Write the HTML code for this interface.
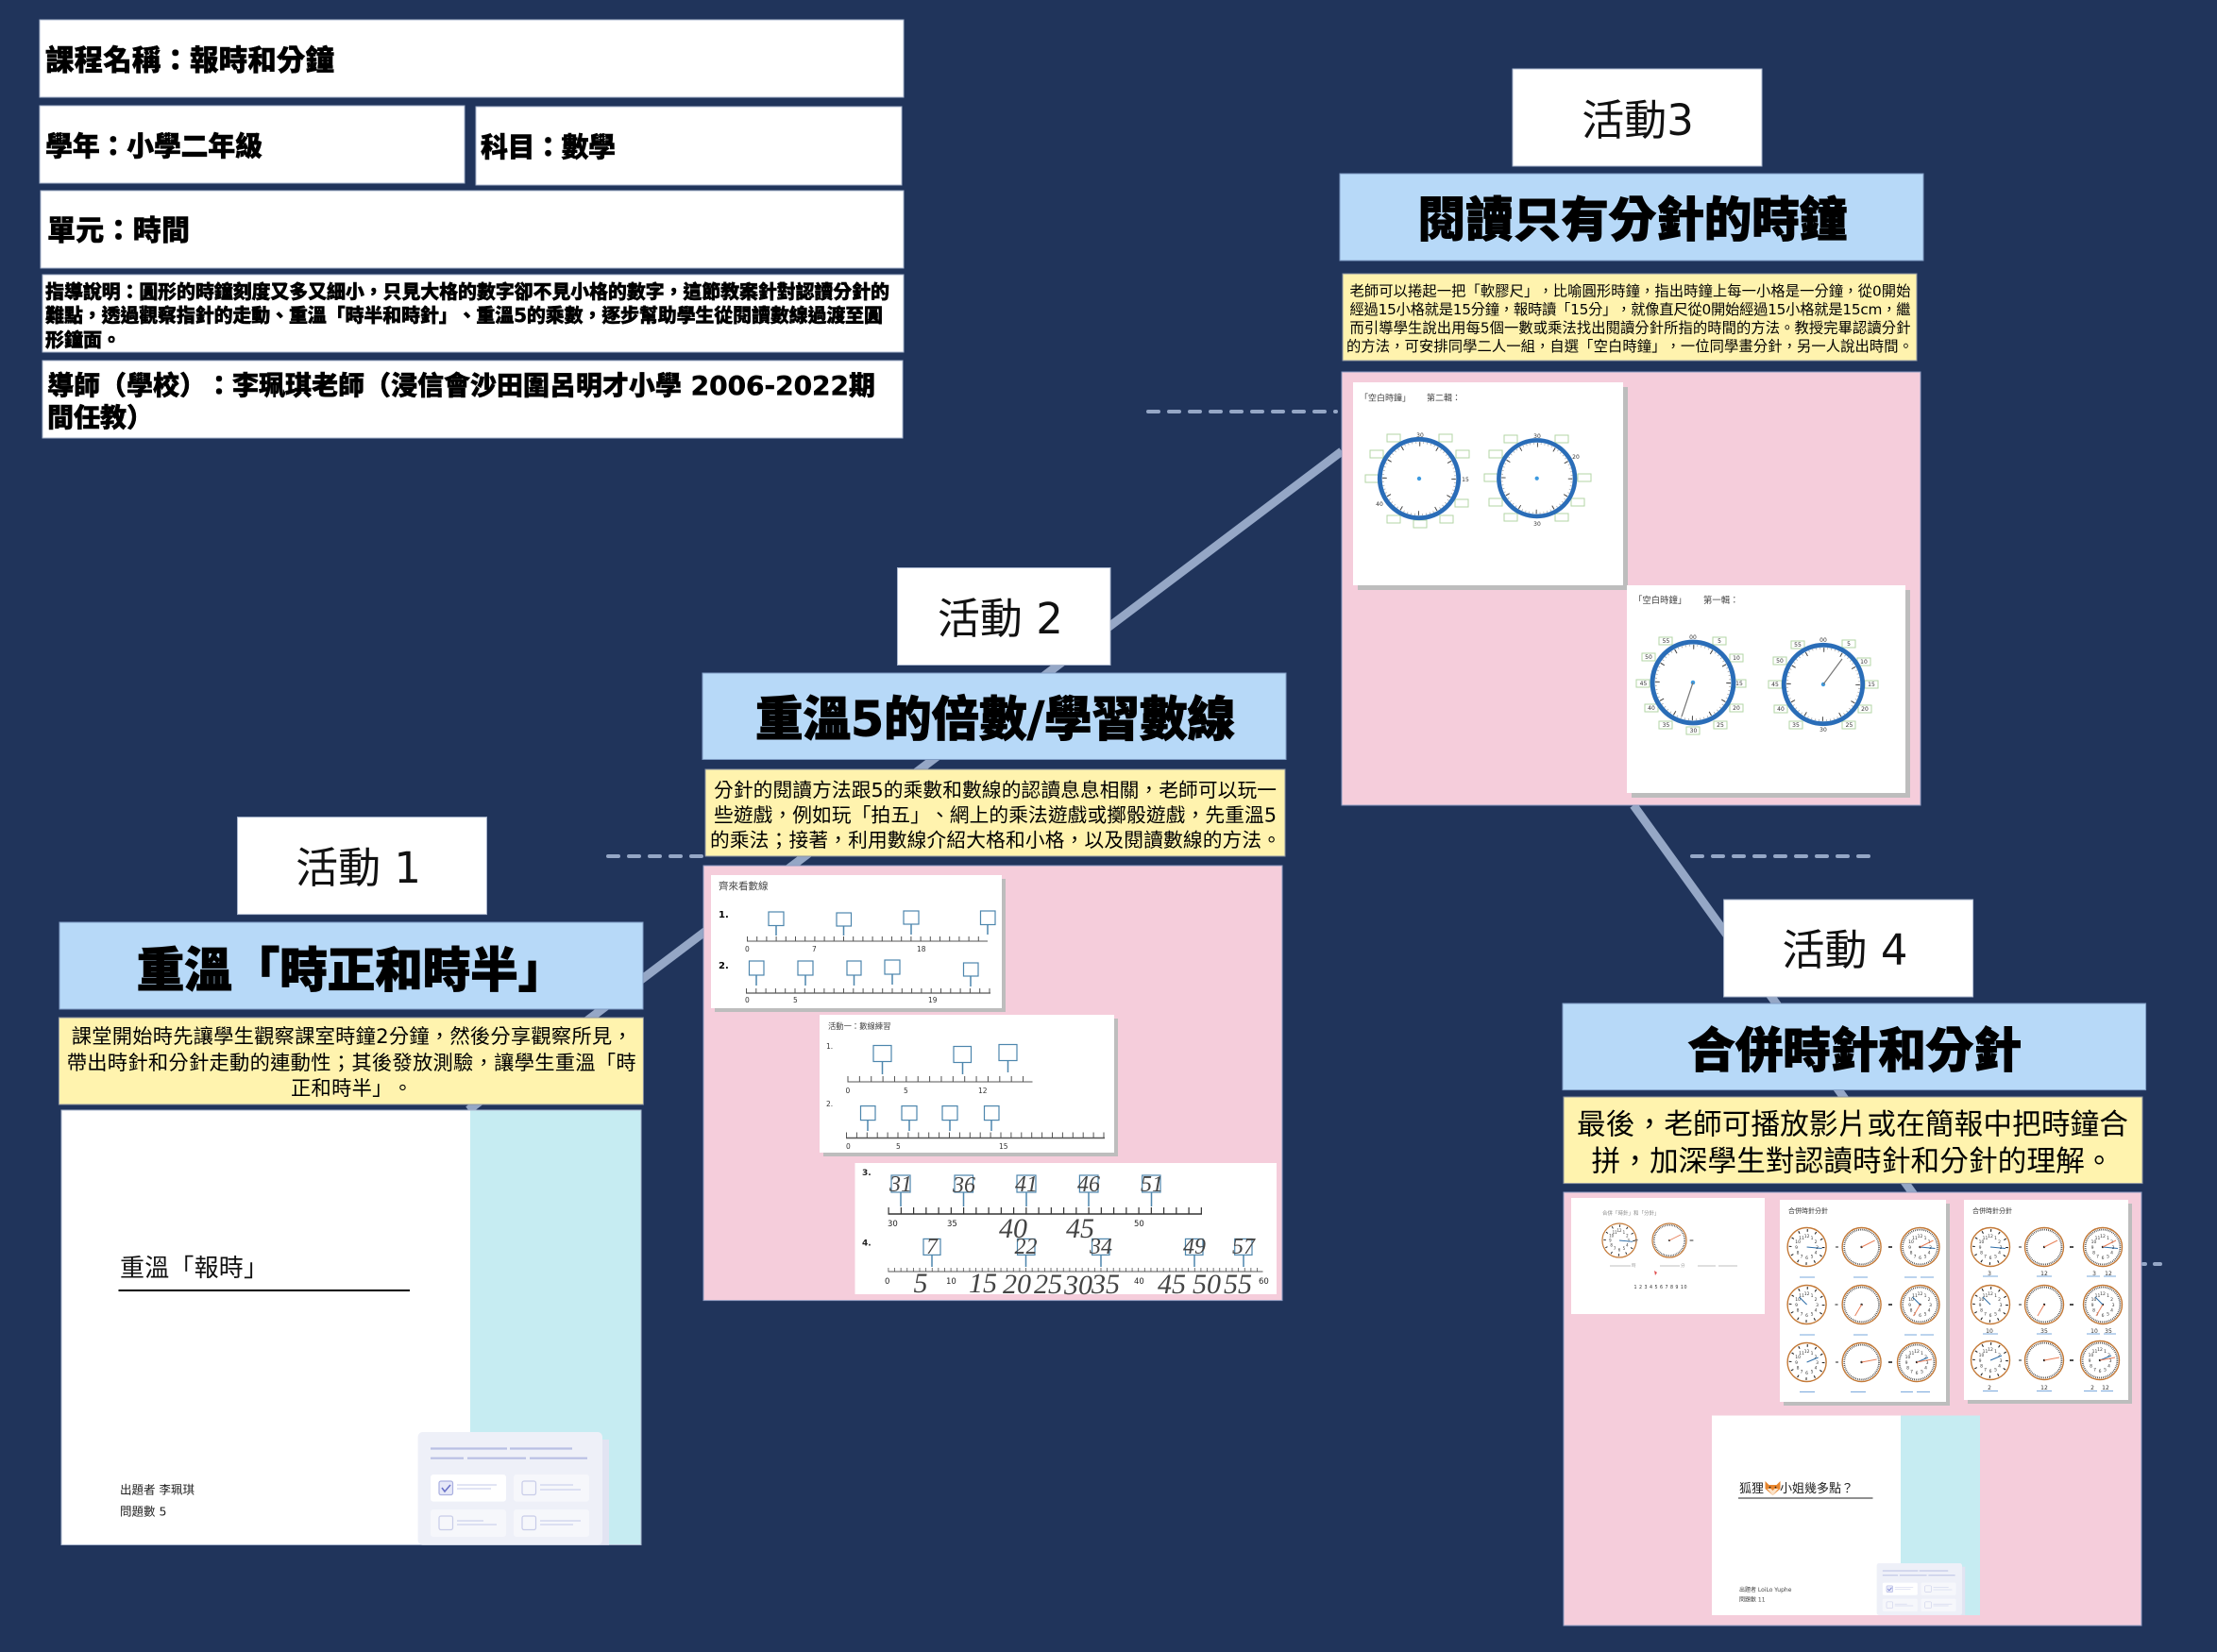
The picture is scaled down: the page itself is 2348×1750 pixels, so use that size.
<!DOCTYPE html>
<html lang="zh-Hant"><head><meta charset="utf-8"><title>報時和分鐘</title>
<style>
html,body{margin:0;padding:0;background:#20345b}
svg{display:block}
text{font-family:"DejaVu Sans","Noto Sans CJK TC",sans-serif;fill:#000;text-spacing-trim:space-all;font-feature-settings:"chws" 0,"palt" 0}
.b{font-weight:900;stroke:#000;stroke-width:.5px}
.t{font-weight:900;font-size:50.5px;text-anchor:middle;stroke:#000;stroke-width:1px}
.l{font-size:45px;text-anchor:middle;fill:#111}
.m{stroke:#95a7c6;stroke-width:9;fill:none}
.d{stroke:#95a7c6;stroke-width:4;stroke-linecap:round;stroke-dasharray:11 11;fill:none}
.w{fill:#fff;stroke:#a9b6ce;stroke-width:1}
.bl{fill:#b7d9f8;stroke:#7f9cc4;stroke-width:1}
.y{fill:#fff3ae;stroke:#8b93a0;stroke-width:1}
.p{fill:#f5cddb;stroke:#8d9ac0;stroke-width:1}
.s{fill:#bdbdbd}
.n{fill:#fff}
.bx{fill:#fff;stroke:#4d86ad;stroke-width:1.2}
.ar{stroke:#4d86ad;stroke-width:1.5}
.tk{stroke:#555;fill:none}
.sm{font-size:7.5px;fill:#333}
.sn{font-size:8.5px;fill:#222}
.hw{font-family:"Liberation Serif","Noto Serif CJK SC",serif;font-style:italic;fill:#444;font-size:30px;text-anchor:middle}
.hb{font-family:"Liberation Serif","Noto Serif CJK SC",serif;font-style:italic;fill:#444;font-size:24px;text-anchor:middle}
.gb{fill:#fff;stroke:#b3d6a6;stroke-width:1}
.cl{font-size:6px;text-anchor:middle;fill:#333}
.c5{font-size:4.5px;text-anchor:middle;fill:#333}
.ans{stroke:#7aa8dc;stroke-width:1;fill:none}
</style></head><body>
<svg xmlns="http://www.w3.org/2000/svg" width="2348" height="1750" viewBox="0 0 2348 1750">
<defs>
<g id="bclock">
<circle r="41.7" fill="#fff" stroke="#2a6db8" stroke-width="4.8"/>
<circle r="38.2" fill="none" stroke="#aaa" stroke-width="2" stroke-dasharray=".8 3.2"/>
<circle r="36.5" fill="none" stroke="#444" stroke-width="4.5" stroke-dasharray="1 18.11"/>
<circle r="2.2" fill="#3d9ae0"/>
</g>
<g id="nums">
<text class="c5" y="-10">12</text><text class="c5" x="5.500" y="-8">1</text><text class="c5" x="9.500" y="-3.800">2</text><text class="c5" x="11" y="1.800">3</text><text class="c5" x="9.500" y="7.300">4</text><text class="c5" x="5.500" y="11.300">5</text><text class="c5" y="13">6</text><text class="c5" x="-5.500" y="11.300">7</text><text class="c5" x="-9.500" y="7.300">8</text><text class="c5" x="-11" y="1.800">9</text><text class="c5" x="-9.500" y="-3.800">10</text><text class="c5" x="-5.500" y="-8">11</text>
</g>
<g id="oc1">
<circle r="20.5" fill="#fff" stroke="#c47a38" stroke-width="1.4"/>
<circle r="17.5" fill="none" stroke="#222" stroke-width="2.8" stroke-dasharray="1.1 8.06"/>
<use href="#nums"/>
</g>
<g id="oc2">
<circle r="20.5" fill="#fff" stroke="#c47a38" stroke-width="1.4"/>
<circle r="18.4" fill="none" stroke="#222" stroke-width="1.8" stroke-dasharray=".7 1.23"/>
<circle r="1.2" fill="#222"/>
</g>
<g id="oc3">
<circle r="20.5" fill="#fff" stroke="#c47a38" stroke-width="1.4"/>
<circle r="18.4" fill="none" stroke="#222" stroke-width="1.8" stroke-dasharray=".7 1.23"/>
<use href="#nums"/>
<circle r="1.2" fill="#222"/>
</g>
<path id="h1" d="M0 0L16 1.500" stroke="#2f6ea8" stroke-width="1" fill="none"/>
<path id="m1" d="M0 0L14 -7" stroke="#e8805a" stroke-width="1" fill="none"/>
<path id="h2" d="M0 0L-8 -8" stroke="#2f6ea8" stroke-width="1" fill="none"/>
<path id="m2" d="M0 0L-7 12" stroke="#e8805a" stroke-width="1" fill="none"/>
<path id="h3" d="M0 0L12 -5" stroke="#2f6ea8" stroke-width="1" fill="none"/>
<path id="m3" d="M0 0L16 -3" stroke="#e8805a" stroke-width="1" fill="none"/>
<g id="card">
<rect x="448" y="1525" width="197" height="111.500" fill="#e2e4f2"/>
<rect x="442.600" y="1517" width="195.400" height="119.500" rx="5" fill="#eef0f8"/>
<path d="M456 1534.500H537M540 1534.500H606M456 1544.700H491M495 1544.700H557M561 1544.700H622" stroke="#b9bfe4" stroke-width="2.200" fill="none"/>
<rect x="456" y="1562" width="80" height="28.600" rx="3" fill="#fff"/>
<rect x="544" y="1562" width="80" height="28.600" rx="3" fill="#f6f7fb"/>
<rect x="456" y="1599" width="80" height="29" rx="3" fill="#f6f7fb"/>
<rect x="544" y="1599" width="80" height="29" rx="3" fill="#f6f7fb"/>
<rect x="465" y="1569" width="14.500" height="14.500" rx="2" fill="#e6e8f8" stroke="#aab0e0" stroke-width="1.200"/>
<path d="M468 1576l3 4 6-7" stroke="#6a72c8" stroke-width="1.600" fill="none"/>
<rect x="553" y="1569" width="14.500" height="14.500" rx="2" fill="none" stroke="#c8cce8" stroke-width="1.200"/>
<rect x="465" y="1606" width="14.500" height="14.500" rx="2" fill="none" stroke="#c8cce8" stroke-width="1.200"/>
<rect x="553" y="1606" width="14.500" height="14.500" rx="2" fill="none" stroke="#c8cce8" stroke-width="1.200"/>
<path d="M484 1573H526M484 1577H520M572 1573H607M572 1578H615M484 1611H512M484 1615H526M572 1611H615M572 1615H607" stroke="#c3c8e8" stroke-width="1" fill="none"/>
</g>
</defs>

<rect width="2348" height="1750" fill="#20345b"/>

<!-- connectors -->
<path class="m" d="M496 1176L1421 478"/>
<path class="m" d="M1730 853L2028 1267"/>
<path class="d" d="M1216 436H1415"/>
<path class="d" d="M644 907H750"/>
<path class="d" d="M1792 907H1980"/>
<path class="d" d="M2270 1339H2272M2282 1339H2288"/>

<!-- header -->
<rect class="w" x="42" y="21" width="915" height="82"/>
<rect class="w" x="42" y="112" width="450" height="82"/>
<rect class="w" x="504" y="113" width="451" height="83"/>
<rect class="w" x="43" y="202" width="914" height="82"/>
<rect class="w" x="45" y="291" width="912" height="82"/>
<rect class="w" x="45" y="382" width="911" height="82"/>
<text class="b" x="48" y="74.500" font-size="30.500" textLength="306">課程名稱：報時和分鐘</text>
<text class="b" x="48" y="165" font-size="29" textLength="230">學年：小學二年級</text>
<text class="b" x="509" y="166" font-size="29" textLength="143">科目：數學</text>
<text class="b" x="50" y="254.500" font-size="30" textLength="151">單元：時間</text>
<text class="b" x="48" y="316" font-size="20" textLength="894">指導說明：圓形的時鐘刻度又多又細小，只見大格的數字卻不見小格的數字，這節教案針對認讀分針的</text>
<text class="b" x="48" y="341" font-size="20" textLength="887">難點，透過觀察指針的走動、重溫「時半和時針」、重溫5的乘數，逐步幫助學生從閱讀數線過渡至圓</text>
<text class="b" x="48" y="367" font-size="20">形鐘面。</text>
<text class="b" x="50" y="418" font-size="28" textLength="877">導師（學校）：李珮琪老師（浸信會沙田圍呂明才小學 2006-2022期</text>
<text class="b" x="50" y="452" font-size="28">間任教）</text>

<!-- Activity 3 -->
<rect class="w" x="1602" y="73" width="264" height="103"/>
<text class="l" x="1734.600" y="143">活動3</text>
<rect class="bl" x="1419" y="184" width="618" height="92"/>
<text class="t" x="1729" y="250.500">閱讀只有分針的時鐘</text>
<rect class="y" x="1422" y="290" width="608" height="92"/>
<g font-size="15.300">
<text x="1429.500" y="313.300" textLength="594">老師可以捲起一把「軟膠尺」，比喻圓形時鐘，指出時鐘上每一小格是一分鐘，從0開始</text>
<text x="1429.500" y="333" textLength="594">經過15小格就是15分鐘，報時讀「15分」，就像直尺從0開始經過15小格就是15cm，繼</text>
<text x="1429.500" y="352.500" textLength="594">而引導學生說出用每5個一數或乘法找出閱讀分針所指的時間的方法。教授完畢認讀分針</text>
<text x="1426" y="372" textLength="600">的方法，可安排同學二人一組，自選「空白時鐘」，一位同學畫分針，另一人說出時間。</text>
</g>
<rect class="p" x="1421" y="394" width="613" height="459"/>
<rect class="s" x="1438" y="410" width="286" height="215"/>
<rect class="n" x="1433" y="405" width="286" height="215"/>
<rect class="s" x="1728" y="625" width="295" height="220"/>
<rect class="n" x="1723" y="620" width="295" height="220"/>
<text x="1440" y="424.500" font-size="9" style="fill:#444">「空白時鐘」</text>
<text x="1511" y="424.500" font-size="9" style="fill:#444">第二輯：</text>
<text x="1730" y="639" font-size="9.400" style="fill:#444">「空白時鐘」</text>
<text x="1804" y="639" font-size="9.400" style="fill:#444">第一輯：</text>

<g>
<rect class="gb" x="1469" y="460" width="14" height="8"/><rect class="gb" x="1524" y="460" width="14" height="8"/>
<rect class="gb" x="1451" y="477" width="14" height="8"/><rect class="gb" x="1542" y="477" width="14" height="8"/>
<rect class="gb" x="1446" y="503" width="14" height="8"/><rect class="gb" x="1541" y="529" width="14" height="8"/>
<rect class="gb" x="1469" y="546" width="14" height="8"/><rect class="gb" x="1497" y="551" width="14" height="8"/>
<rect class="gb" x="1525" y="546" width="14" height="8"/>
<rect class="gb" x="1593" y="461" width="14" height="8"/><rect class="gb" x="1647" y="461" width="14" height="8"/>
<rect class="gb" x="1577" y="477" width="14" height="8"/>
<rect class="gb" x="1572" y="502" width="14" height="8"/><rect class="gb" x="1671" y="502" width="14" height="8"/>
<rect class="gb" x="1577" y="528" width="14" height="8"/><rect class="gb" x="1664" y="528" width="14" height="8"/>
<rect class="gb" x="1593" y="544" width="14" height="8"/><rect class="gb" x="1647" y="544" width="14" height="8"/>
</g>
<use href="#bclock" transform="translate(1503 507)"/>
<use href="#bclock" transform="translate(1627.700 506.700) scale(.966)"/>
<text class="cl" x="1504" y="463">30</text><text class="cl" x="1552" y="510">15</text><text class="cl" x="1461" y="536">40</text>
<text class="cl" x="1628" y="464">30</text><text class="cl" x="1628" y="557">30</text><text class="cl" x="1669" y="486">20</text>

<g>
<rect class="gb" x="1757" y="675" width="14" height="8"/><rect class="gb" x="1814" y="675" width="14" height="8"/>
<rect class="gb" x="1832" y="693" width="14" height="8"/><rect class="gb" x="1835" y="720" width="14" height="8"/>
<rect class="gb" x="1832" y="746" width="14" height="8"/><rect class="gb" x="1815" y="764" width="14" height="8"/>
<rect class="gb" x="1786" y="770" width="14" height="8"/><rect class="gb" x="1757" y="764" width="14" height="8"/>
<rect class="gb" x="1742" y="746" width="14" height="8"/><rect class="gb" x="1733" y="720" width="14" height="8"/>
<rect class="gb" x="1739" y="692" width="14" height="8"/>
<rect class="gb" x="1951" y="678" width="14" height="8"/><rect class="gb" x="1967" y="697" width="14" height="8"/>
<rect class="gb" x="1975" y="721" width="14" height="8"/><rect class="gb" x="1968" y="747" width="14" height="8"/>
<rect class="gb" x="1951" y="764" width="14" height="8"/><rect class="gb" x="1895" y="764" width="14" height="8"/>
<rect class="gb" x="1879" y="747" width="14" height="8"/><rect class="gb" x="1873" y="721" width="14" height="8"/>
<rect class="gb" x="1878" y="696" width="14" height="8"/><rect class="gb" x="1897" y="679" width="14" height="8"/>
</g>
<use href="#bclock" transform="translate(1793 723) scale(1.03)"/>
<use href="#bclock" transform="translate(1931 725)"/>
<path d="M1793 723L1781 759M1931 725L1951 698" stroke="#777" stroke-width="1.200" fill="none"/>
<text class="cl" x="1793" y="677">00</text><text class="cl" x="1821" y="681">5</text><text class="cl" x="1839" y="699">10</text><text class="cl" x="1842" y="726">15</text><text class="cl" x="1839" y="752">20</text><text class="cl" x="1822" y="770">25</text><text class="cl" x="1793.500" y="776">30</text><text class="cl" x="1764.500" y="770">35</text><text class="cl" x="1749" y="752">40</text><text class="cl" x="1740.500" y="726">45</text><text class="cl" x="1746" y="698">50</text><text class="cl" x="1764.500" y="681">55</text>
<text class="cl" x="1931" y="680">00</text><text class="cl" x="1958" y="684">5</text><text class="cl" x="1974" y="703">10</text><text class="cl" x="1982" y="727">15</text><text class="cl" x="1975" y="753">20</text><text class="cl" x="1958.500" y="770">25</text><text class="cl" x="1931" y="775">30</text><text class="cl" x="1902" y="770">35</text><text class="cl" x="1886" y="753">40</text><text class="cl" x="1880" y="727">45</text><text class="cl" x="1885" y="702">50</text><text class="cl" x="1904" y="685">55</text>

<!-- Activity 2 -->
<rect class="w" x="950.500" y="601.500" width="225.500" height="103"/>
<text class="l" x="1059.400" y="671">活動 2</text>
<rect class="bl" x="744" y="713" width="618" height="91.500"/>
<text class="t" x="1054" y="779.500">重溫5的倍數/學習數線</text>
<rect class="y" x="747" y="815" width="614" height="92"/>
<g font-size="20.700">
<text x="756" y="844" textLength="596">分針的閱讀方法跟5的乘數和數線的認讀息息相關，老師可以玩一</text>
<text x="756" y="870.400" textLength="596">些遊戲，例如玩「拍五」、網上的乘法遊戲或擲骰遊戲，先重溫5</text>
<text x="752" y="897" textLength="605">的乘法；接著，利用數線介紹大格和小格，以及閱讀數線的方法。</text>
</g>
<rect class="p" x="745" y="917" width="613" height="460.600"/>
<rect class="s" x="757" y="931" width="308" height="141"/>
<rect class="n" x="753" y="927" width="308" height="141"/>
<rect class="s" x="872" y="1079" width="312" height="146"/>
<rect class="n" x="868" y="1075" width="312" height="146"/>
<rect class="n" x="905.500" y="1232" width="446.500" height="139"/>

<!-- W1 -->
<text x="761" y="942" font-size="10.500" style="fill:#444">齊來看數線</text>
<text x="761" y="972" font-size="10" font-weight="bold">1.</text>
<path class="tk" d="M791 997H1046" stroke-width="1"/>
<path class="tk" d="M791 994.500H1046" stroke-width="5" stroke-dasharray="1 9.200"/>
<text class="sm" x="789" y="1008">0</text><text class="sm" x="860" y="1008">7</text><text class="sm" x="971" y="1008">18</text>
<rect class="bx" x="814" y="966" width="16" height="14.500"/><rect class="bx" x="886" y="967" width="15.500" height="14"/><rect class="bx" x="957" y="965" width="16" height="14"/><rect class="bx" x="1038.500" y="965" width="15.500" height="14.500"/>
<path class="ar" d="M822 980V991M893.500 981V991M965 979V990M1046 979.500V990"/>
<text x="761" y="1026" font-size="10" font-weight="bold">2.</text>
<path class="tk" d="M790 1052H1049" stroke-width="1.200"/>
<path class="tk" d="M790 1049.500H1049" stroke-width="5" stroke-dasharray="1 9.300"/>
<text class="sm" x="789" y="1062">0</text><text class="sm" x="840" y="1062">5</text><text class="sm" x="983" y="1062">19</text>
<rect class="bx" x="793.500" y="1018" width="15.500" height="15"/><rect class="bx" x="845" y="1018" width="16" height="15"/><rect class="bx" x="897" y="1018" width="15" height="15"/><rect class="bx" x="937" y="1017" width="16" height="15"/><rect class="bx" x="1020.500" y="1020" width="15.500" height="14"/>
<path class="ar" d="M801 1033V1044M853 1033V1044M904.500 1033V1044M945 1032V1043M1028 1034V1045"/>

<!-- W2 -->
<text x="877" y="1090" font-size="8.300" style="fill:#444">活動一：數線練習</text>
<text x="875" y="1111" font-size="7.500" style="fill:#333">1.</text>
<path class="tk" d="M897.500 1146H1093.500" stroke-width="1"/>
<path class="tk" d="M897.500 1143H1093.500" stroke-width="6" stroke-dasharray="1 11.370"/>
<text class="sm" x="895.500" y="1158">0</text><text class="sm" x="957" y="1158">5</text><text class="sm" x="1036" y="1158">12</text>
<rect class="bx" x="925" y="1107.500" width="19" height="17"/><rect class="bx" x="1010" y="1108.500" width="18.500" height="17"/><rect class="bx" x="1058" y="1106.500" width="19" height="17"/>
<path class="ar" d="M934.500 1124.500V1138M1019.500 1125.500V1138M1067.500 1123.500V1136"/>
<text x="875" y="1172" font-size="7.500" style="fill:#333">2.</text>
<path class="tk" d="M896 1205.500H1170" stroke-width="1.400"/>
<path class="tk" d="M896 1202.500H1170" stroke-width="6" stroke-dasharray="1 9.900"/>
<text class="sm" x="896" y="1217">0</text><text class="sm" x="949" y="1217">5</text><text class="sm" x="1058" y="1217">15</text>
<rect class="bx" x="911.500" y="1171.600" width="15.500" height="15"/><rect class="bx" x="955" y="1171.600" width="16" height="15"/><rect class="bx" x="998" y="1171.600" width="16" height="15"/><rect class="bx" x="1042.500" y="1171.600" width="15.500" height="15"/>
<path class="ar" d="M919 1186.600V1198M963 1186.600V1198M1006 1186.600V1198M1050 1186.600V1198"/>

<!-- W3 -->
<text x="913" y="1245" font-size="9" font-weight="bold" style="fill:#222">3.</text>
<path class="tk" d="M940.500 1286H1273" stroke-width="1.500" style="stroke:#333"/>
<path class="tk" d="M940.500 1282.500H1273" stroke-width="7" stroke-dasharray="1.200 12.050" style="stroke:#333"/>
<text class="sn" x="940" y="1299">30</text><text class="sn" x="1003" y="1299">35</text><text class="sn" x="1201" y="1299">50</text>
<rect class="bx" x="944" y="1245" width="20" height="18"/><rect class="bx" x="1011" y="1245" width="19.500" height="18"/><rect class="bx" x="1077" y="1245" width="20" height="18"/><rect class="bx" x="1143.400" y="1245" width="19.600" height="18"/><rect class="bx" x="1209.700" y="1245" width="19.300" height="18"/>
<path class="ar" d="M954 1263V1278M1020.500 1263V1278M1087 1263V1278M1153 1263V1278M1219.500 1263V1278"/>
<text class="hb" x="954" y="1262">31</text><text class="hb" x="1021" y="1263">36</text><text class="hb" x="1087" y="1262">41</text><text class="hb" x="1153" y="1262">46</text><text class="hb" x="1220" y="1262">51</text>
<text class="hw" x="1073" y="1311">40</text><text class="hw" x="1144" y="1311">45</text>
<text x="913" y="1319.500" font-size="9" font-weight="bold" style="fill:#222">4.</text>
<path class="tk" d="M940.500 1347H1337.500" stroke-width="1" style="stroke:#555"/>
<path class="tk" d="M940.500 1345H1337.500" stroke-width="4" stroke-dasharray=".8 5.820"/>
<text class="sn" x="937" y="1360">0</text><text class="sn" x="1002" y="1360">10</text><text class="sn" x="1201" y="1360">40</text><text class="sn" x="1333" y="1360">60</text>
<rect class="bx" x="978" y="1312.400" width="18" height="17"/><rect class="bx" x="1077.500" y="1312.400" width="18.500" height="17"/><rect class="bx" x="1156.600" y="1312.400" width="18.400" height="17"/><rect class="bx" x="1255.500" y="1312.400" width="18.500" height="17"/><rect class="bx" x="1307.700" y="1312.400" width="18.300" height="17"/>
<path class="ar" d="M987 1329.400V1342M1086.500 1329.400V1342M1166 1329.400V1342M1265 1329.400V1342M1317 1329.400V1342"/>
<text class="hb" x="987" y="1328">7</text><text class="hb" x="1086.500" y="1328">22</text><text class="hb" x="1166" y="1328">34</text><text class="hb" x="1265" y="1328">49</text><text class="hb" x="1317" y="1328">57</text>
<text class="hw" x="975" y="1369">5</text><text class="hw" x="1041" y="1369">15</text><text class="hw" x="1077" y="1370">20</text><text class="hw" x="1110" y="1370">25</text><text class="hw" x="1142" y="1371">30</text><text class="hw" x="1171" y="1370">35</text><text class="hw" x="1241" y="1370">45</text><text class="hw" x="1278" y="1370">50</text><text class="hw" x="1311" y="1370">55</text>

<!-- Activity 1 -->
<rect class="w" x="251.500" y="865.600" width="264" height="103"/>
<text class="l" x="379.600" y="935">活動 1</text>
<rect class="bl" x="63" y="977" width="618" height="92"/>
<text class="t" x="372" y="1045.500">重溫「時正和時半」</text>
<rect class="y" x="62.400" y="1078" width="619" height="92"/>
<g font-size="21.300">
<text x="75.700" y="1105" textLength="594">課堂開始時先讓學生觀察課室時鐘2分鐘，然後分享觀察所見，</text>
<text x="70.700" y="1133" textLength="603">帶出時針和分針走動的連動性；其後發放測驗，讓學生重溫「時</text>
<text x="308" y="1160" textLength="129">正和時半」。</text>
</g>
<rect class="w" x="65" y="1176" width="614" height="460.500"/>
<rect x="498" y="1176.500" width="180.500" height="459.500" fill="#c6ecf2"/>
<text x="127" y="1352" font-size="26" textLength="157" style="fill:#111">重溫「報時」</text>
<path d="M125.500 1367H434" stroke="#000" stroke-width="2"/>
<text x="127" y="1582.500" font-size="12.500" style="fill:#222">出題者 李珮琪</text>
<text x="127" y="1605.500" font-size="12.500" style="fill:#222">問題數 5</text>
<use href="#card"/>

<!-- Activity 4 -->
<rect class="w" x="1825.600" y="953" width="264" height="103"/>
<text class="l" x="1954" y="1022">活動 4</text>
<rect class="bl" x="1655" y="1063" width="617.600" height="91.600"/>
<text class="t" x="1964" y="1130.500">合併時針和分針</text>
<rect class="y" x="1656" y="1162" width="613" height="91.600"/>
<g font-size="30.700">
<text x="1670" y="1201.500" textLength="584">最後，老師可播放影片或在簡報中把時鐘合</text>
<text x="1685.500" y="1240.500" textLength="553">拼，加深學生對認讀時針和分針的理解。</text>
</g>
<rect class="p" x="1656" y="1263" width="612" height="459"/>
<rect class="n" x="1664" y="1269" width="205" height="123"/>
<rect class="s" x="1889" y="1275" width="176" height="214"/>
<rect class="n" x="1885" y="1271" width="176" height="214"/>
<rect class="s" x="2084" y="1275" width="174" height="212"/>
<rect class="n" x="2080" y="1271" width="174" height="212"/>

<text x="1697" y="1287" font-size="5.500" style="fill:#888">合併「時針」和「分針」</text>
<use href="#oc1" transform="translate(1715 1314) scale(.88)"/><use href="#h1" transform="translate(1715 1314) scale(.88)"/>
<use href="#oc2" transform="translate(1768 1314) scale(.88)"/><use href="#m1" transform="translate(1768 1314) scale(.88)"/>
<text x="1733" y="1316" class="cl">+</text><text x="1791.500" y="1316" class="cl">=</text>
<path d="M1705 1341H1727M1758 1341H1779M1798 1341H1817M1820 1341H1840" stroke="#aaa" stroke-width=".7"/>
<text x="1728" y="1342" style="font-size:4.500px;fill:#999">時</text><text x="1780" y="1342" style="font-size:4.500px;fill:#999">分</text>
<path d="M1752 1346l3 2-2 3z" fill="#e05050"/>
<text x="1730.500" y="1365" font-size="4.800" style="fill:#333" textLength="56">1 2 3 4 5 6 7 8 9 10</text>

<text x="1894" y="1285" font-size="7" style="fill:#333">合併時針分針</text>
<text x="2089" y="1285" font-size="7" style="fill:#333">合併時針分針</text>

<!-- W2 clocks -->
<g transform="translate(1913.600 1321)"><use href="#oc1"/><use href="#h1"/></g>
<g transform="translate(1971.600 1321)"><use href="#oc2"/><use href="#m1"/></g>
<g transform="translate(2033.500 1321)"><use href="#oc3"/><use href="#h1"/><use href="#m1"/></g>
<g transform="translate(1913.600 1382)"><use href="#oc1"/><use href="#h2"/></g>
<g transform="translate(1971.600 1382)"><use href="#oc2"/><use href="#m2"/></g>
<g transform="translate(2033.500 1382)"><use href="#oc3"/><use href="#h2"/><use href="#m2"/></g>
<g transform="translate(1913.600 1443)"><use href="#oc1"/><use href="#h3"/></g>
<g transform="translate(1971.600 1443)"><use href="#oc2"/><use href="#m3"/></g>
<g transform="translate(2030 1443)"><use href="#oc3"/><use href="#h3"/><use href="#m3"/></g>
<path class="ans" d="M1906 1353H1922M1963 1353H1978M2017 1353H2030M2034 1353H2048M1906 1414H1922M1963 1414H1978M2017 1414H2030M2034 1414H2048M1906 1474.500H1922M1960 1474.500H1976M2013 1474.500H2026M2030 1474.500H2044"/>
<path d="M1944 1321h3M1943.500 1382h3M1944 1443h3" stroke="#222" stroke-width="1" fill="none"/>
<path d="M2000 1321h4M2000 1382h4M2000 1443h4" stroke="#111" stroke-width="1.500" fill="none"/>
<!-- W3 clocks -->
<g transform="translate(2108 1321)"><use href="#oc1"/><use href="#h1"/></g>
<g transform="translate(2165 1321)"><use href="#oc2"/><use href="#m1"/></g>
<g transform="translate(2227 1321)"><use href="#oc3"/><use href="#h1"/><use href="#m1"/></g>
<g transform="translate(2108 1382)"><use href="#oc1"/><use href="#h2"/></g>
<g transform="translate(2165 1382)"><use href="#oc2"/><use href="#m2"/></g>
<g transform="translate(2227 1382)"><use href="#oc3"/><use href="#h2"/><use href="#m2"/></g>
<g transform="translate(2108 1441)"><use href="#oc1"/><use href="#h3"/></g>
<g transform="translate(2165 1441)"><use href="#oc2"/><use href="#m3"/></g>
<g transform="translate(2224 1441)"><use href="#oc3"/><use href="#h3"/><use href="#m3"/></g>
<path class="ans" d="M2100 1352H2116M2157 1352H2173M2210 1352H2224M2228 1352H2241M2100 1413H2116M2157 1413H2173M2210 1413H2224M2228 1413H2241M2100 1473.500H2116M2157 1473.500H2173M2207 1473.500H2221M2225 1473.500H2238"/>
<path d="M2138 1321h3M2138 1382h3M2138 1441h3" stroke="#222" stroke-width="1" fill="none"/>
<path d="M2192 1321h4M2192 1382h4M2192 1441h4" stroke="#111" stroke-width="1.500" fill="none"/>
<text class="cl" x="2107" y="1351">3</text><text class="cl" x="2165" y="1351">12</text><text class="cl" x="2218" y="1351">3</text><text class="cl" x="2233" y="1351">12</text>
<text class="cl" x="2107" y="1412">10</text><text class="cl" x="2165" y="1412">35</text><text class="cl" x="2218" y="1412">10</text><text class="cl" x="2233" y="1412">35</text>
<text class="cl" x="2107" y="1472">2</text><text class="cl" x="2165" y="1472">12</text><text class="cl" x="2216" y="1472">2</text><text class="cl" x="2230" y="1472">12</text>

<!-- form A4 -->
<rect x="1813" y="1499.500" width="284" height="211.500" fill="#fff"/>
<rect x="2013" y="1499.500" width="84" height="211.500" fill="#c6ecf2"/>
<text x="1842" y="1581" font-size="13" style="fill:#222">狐狸</text>
<g transform="translate(1877.500 1576)">
<path d="M-8-7L-4-3H4L8-7L8 1L0 8L-8 1Z" fill="#e8862e"/>
<path d="M-6 1L0 8L6 1L2 1L0 3L-2 1Z" fill="#fbe2c8"/>
<circle cx="-3" cy="-.5" r=".9" fill="#222"/><circle cx="3" cy="-.5" r=".9" fill="#222"/>
</g>
<text x="1885" y="1581" font-size="13" style="fill:#222">小姐幾多點？</text>
<path d="M1841 1587H1983.500" stroke="#222" stroke-width="1"/>
<text x="1842" y="1686" font-size="6" style="fill:#444">出題者 LoiLo Yuphe</text>
<text x="1842" y="1696.500" font-size="6" style="fill:#444">問題數 11</text>
<g transform="translate(1813 1499.500) scale(.4625 .459) translate(-65 -1176)"><use href="#card"/></g>
</svg>
</body></html>
